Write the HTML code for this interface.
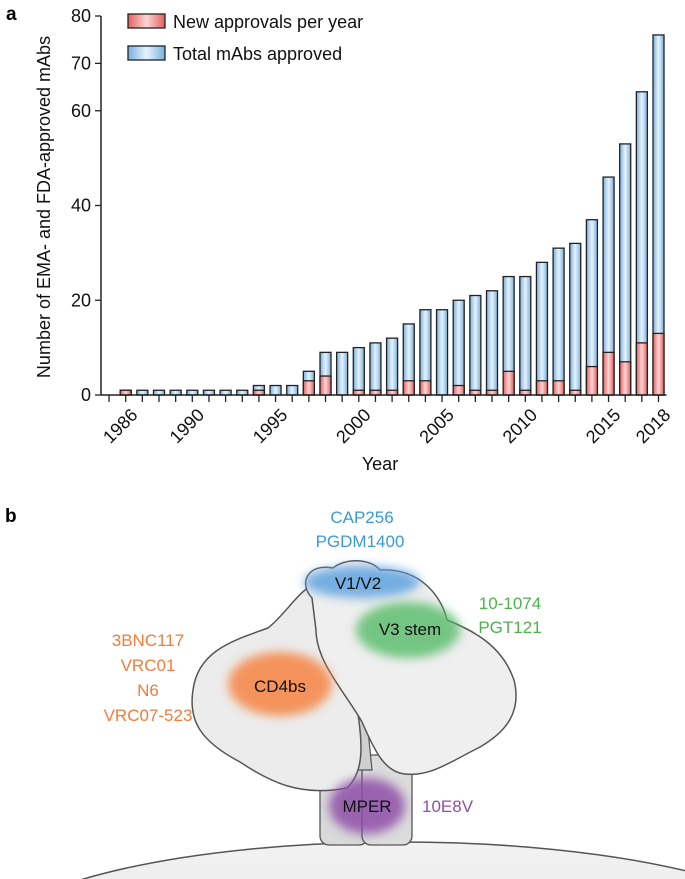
<!DOCTYPE html>
<html><head><meta charset="utf-8"><style>
html,body{margin:0;background:#fff;overflow:hidden;width:685px;height:879px;}
svg{display:block;font-family:"Liberation Sans",Arial,sans-serif;}
</style></head><body>
<svg id="chart" width="685" height="879" viewBox="0 0 685 879" xmlns="http://www.w3.org/2000/svg">
<defs>
<linearGradient id="gBlue" x1="0" x2="1" y1="0" y2="0"><stop offset="0" stop-color="#78b0df"/><stop offset="0.5" stop-color="#e8f3fc"/><stop offset="1" stop-color="#78b0df"/></linearGradient>
<linearGradient id="gRed" x1="0" x2="1" y1="0" y2="0"><stop offset="0" stop-color="#e35f5f"/><stop offset="0.5" stop-color="#fdd5d5"/><stop offset="1" stop-color="#e35f5f"/></linearGradient>
<linearGradient id="gMem" x1="0" x2="0" y1="0" y2="1"><stop offset="0" stop-color="#f2f2f2"/><stop offset="1" stop-color="#dedede"/></linearGradient>
<filter id="blur" x="-50%" y="-50%" width="200%" height="200%"><feGaussianBlur stdDeviation="5"/></filter>
</defs>
<text x="6" y="20" font-weight="bold" font-size="19">a</text>
<g id="plot"></g>
<text x="5" y="522" font-weight="bold" font-size="19">b</text>
<g>
<ellipse cx="400" cy="950" rx="420" ry="108" fill="url(#gMem)" stroke="#555" stroke-width="1.5"/>
<rect x="320" y="750" width="48" height="95" rx="9" fill="#d9d9d9" stroke="#555" stroke-width="1.3"/>
<rect x="362" y="755" width="50" height="90" rx="9" fill="#dcdcdc" stroke="#555" stroke-width="1.3"/>
<path d="M350 700 L365 700 L372 770 L350 770 Z" fill="#cfcfcf" stroke="#555" stroke-width="1.2"/>
<path d="M318 582 C298 590 288 612 268 628 C235 640 198 650 193 690 C188 722 202 742 240 762 C270 782 300 797 347 788 C366 770 362 740 356 700 C332 660 320 620 318 582 Z" fill="#ececec" stroke="#555" stroke-width="1.5"/>
<path d="M312 598 C298 583 308 563 333 568 C345 558 370 558 380 570 C422 568 442 598 447 620 C472 630 502 645 514 680 C522 712 506 732 480 747 C450 762 430 777 405 774 C385 772 375 752 362 722 C345 692 316 662 316 630 Z" fill="#efefef" stroke="#555" stroke-width="1.5"/>
<ellipse cx="362" cy="582" rx="58" ry="16" fill="#5ea3e0" opacity="0.85" filter="url(#blur)"/>
<ellipse cx="408" cy="630" rx="52" ry="28" fill="#55bb66" opacity="0.8" filter="url(#blur)"/>
<ellipse cx="280" cy="684" rx="52" ry="32" fill="#f58a4d" opacity="0.9" filter="url(#blur)"/>
<ellipse cx="367" cy="806" rx="38" ry="28" fill="#8e4fa8" opacity="0.85" filter="url(#blur)"/>
<g font-size="17" text-anchor="middle">
<text x="358" y="589" fill="#111">V1/V2</text>
<text x="410" y="635" fill="#111">V3 stem</text>
<text x="280" y="692" fill="#111">CD4bs</text>
<text x="367" y="812" fill="#111">MPER</text>
<text x="362" y="523" fill="#3a9ad9">CAP256</text>
<text x="360" y="547" fill="#3a9ad9">PGDM1400</text>
<text x="510" y="609" fill="#4db34d">10-1074</text>
<text x="510" y="633" fill="#4db34d">PGT121</text>
<text x="148" y="646" fill="#f47b3a">3BNC117</text>
<text x="148" y="671" fill="#f47b3a">VRC01</text>
<text x="148" y="696" fill="#f47b3a">N6</text>
<text x="148" y="721" fill="#f47b3a">VRC07-523</text>
<text x="422" y="812" text-anchor="start" fill="#8e4fa8">10E8V</text>
</g>
</g>
</svg>
<script>
const years=[1986,1987,1988,1989,1990,1991,1992,1993,1994,1995,1996,1997,1998,1999,2000,2001,2002,2003,2004,2005,2006,2007,2008,2009,2010,2011,2012,2013,2014,2015,2016,2017,2018];
const totalApproved=[1,1,1,1,1,1,1,1,2,2,2,5,9,9,10,11,12,15,18,18,20,21,22,25,25,28,31,32,37,46,53,64,76];
const newApprovals=[1,0,0,0,0,0,0,0,1,0,0,3,4,0,1,1,1,3,3,0,2,1,1,5,1,3,3,1,6,9,7,11,13];
const yTicks=[0,20,40,60,70,80];
const xTickLabels=[1986,1990,1995,2000,2005,2010,2015,2018];
const NS='http://www.w3.org/2000/svg';
const g=document.getElementById('plot');
const X0=101,Y0=395,YTOP=16;
const xScale=y=>125.7+(y-1986)*16.65;
const yScale=v=>Y0-(v/80)*(Y0-YTOP);
function mk(t,a){const e=document.createElementNS(NS,t);for(const k in a)e.setAttribute(k,a[k]);g.appendChild(e);return e;}
const bw=11;
years.forEach((yr,i)=>{
  const x=xScale(yr)-bw/2;
  const b=mk('rect',{x:x,y:yScale(totalApproved[i]),width:bw,height:Y0-yScale(totalApproved[i]),fill:'url(#gBlue)',stroke:'#222','stroke-width':1.3});
  
  
  if(newApprovals[i]>0){
    const r=mk('rect',{x:x,y:yScale(newApprovals[i]),width:bw,height:Y0-yScale(newApprovals[i]),fill:'url(#gRed)',stroke:'#222','stroke-width':1.3});
    
    
  }
});
const ya=mk('line',{x1:X0,x2:X0,y1:YTOP,y2:Y0,stroke:'#222','stroke-width':1.5});


const xa=mk('line',{x1:X0,x2:xScale(2018)+8,y1:Y0,y2:Y0,stroke:'#222','stroke-width':1.5});


yTicks.forEach(v=>{
  mk('line',{x1:X0-6,x2:X0,y1:yScale(v),y2:yScale(v),stroke:'#222','stroke-width':1.3});
  const t=mk('text',{x:X0-10,y:yScale(v)+6,'text-anchor':'end','font-size':18,fill:'#111'});
  t.textContent=v;
  
  
});
for(let yr=1985;yr<=2018;yr++){
  mk('line',{x1:xScale(yr),x2:xScale(yr),y1:Y0,y2:Y0+7,stroke:'#222','stroke-width':1.3});
}
xTickLabels.forEach(yr=>{
  const x=xScale(yr)+4,y=Y0+12;
  const t=mk('text',{x:x,y:y,'text-anchor':'end','font-size':18,fill:'#111',transform:`rotate(-45 ${x} ${y})`,'dominant-baseline':'hanging'});
  t.textContent=yr;
  
  
});
const xt=mk('text',{x:380,y:470,'text-anchor':'middle','font-size':18,fill:'#111'});
xt.textContent='Year';


const yt=mk('text',{x:0,y:0,'text-anchor':'middle','font-size':18,fill:'#111',transform:'translate(50,207) rotate(-90)'});
yt.textContent='Number of EMA- and FDA-approved mAbs';


const l1=mk('rect',{x:128,y:14,width:37,height:14,fill:'url(#gRed)',stroke:'#222','stroke-width':1.3});


const lt1=mk('text',{x:173,y:28,'font-size':18,fill:'#111'});
lt1.textContent='New approvals per year';


const l2=mk('rect',{x:128,y:46,width:37,height:14,fill:'url(#gBlue)',stroke:'#222','stroke-width':1.3});


const lt2=mk('text',{x:173,y:60,'font-size':18,fill:'#111'});
lt2.textContent='Total mAbs approved';


</script>
</body></html>
